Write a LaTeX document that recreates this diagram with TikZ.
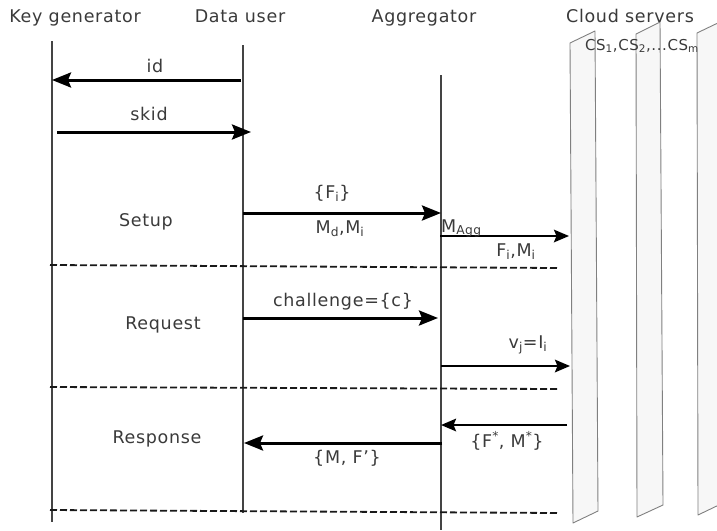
\documentclass[tikz,border=0pt]{standalone}
\usepackage{fontspec}
\setmainfont{DejaVu Sans}[LetterSpace=4]
\definecolor{srvfill}{HTML}{F7F7F7}
\definecolor{lifegray}{HTML}{444444}
\definecolor{txtgray}{HTML}{3A3A3A}
\usetikzlibrary{arrows.meta}

\begin{document}
\begin{tikzpicture}[x=1pt, y=-1pt,
    every node/.style={font=\fontsize{17.5}{20}\selectfont, text=txtgray, inner sep=0pt, anchor=base}]
        \tikzset{
          life/.style={draw=lifegray, line width=1.2pt},
          server/.style={draw=gray, fill=srvfill, line width=0.9pt, line join=round},
          msg/.style={-{Stealth[length=19pt, width=15pt, inset=3pt]}, line width=3pt, black},
          msgsmall/.style={-{Stealth[length=15pt, width=12.5pt, inset=2.5pt]}, line width=2.5pt, black},
          phaseline/.style={dash pattern=on 7pt off 3pt, line width=1.8pt, black!90},
          sub/.style={font=\fontsize{15}{18}\selectfont}
        }
        \useasboundingbox (0,0) rectangle (717,530);
        \clip (0,0) rectangle (717,530);

        \draw[server] (570,43) -- (595,31) -- (598,511) -- (573,523) -- cycle;
        \draw[server] (636,34) -- (660,22) -- (663,505) -- (637,517) -- cycle;
        \draw[server] (697,33) -- (722,21) -- (723,503) -- (698,515) -- cycle;

        \node (kg)    at (75,23)  {Key generator};
        \node (du)    at (240,23) {Data user};
        \node (agg)   at (424,23) {Aggregator};
        \node (cloud) at (630,23) {Cloud servers};
        \node[sub] (cs) at (642,50) {CS\textsubscript{1},CS\textsubscript{2},...CS\textsubscript{m}};

        \coordinate (kgT)  at (52,41);  \coordinate (kgB)  at (52,522);
        \coordinate (duT)  at (243,45); \coordinate (duB)  at (243,513);
        \coordinate (aggT) at (441,75); \coordinate (aggB) at (441,530);
        \draw[life] (kgT) -- (kgB);
        \draw[life] (duT) -- (duB);
        \draw[life] (aggT) -- (aggB);

        \node (setup)    at (146,226) {Setup};
        \node (request)  at (163,329) {Request};
        \node (response) at (157,443) {Response};

        \coordinate (d1a) at (50,265);  \coordinate (d1b) at (558,268);
        \coordinate (d2a) at (50,387);  \coordinate (d2b) at (558,389);
        \coordinate (d3a) at (50,510);  \coordinate (d3b) at (558,513);
        \draw[phaseline] (d1a) -- (d1b);
        \draw[phaseline] (d2a) -- (d2b);
        \draw[phaseline] (d3a) -- (d3b);

        \coordinate (idS)   at (241,80);  \coordinate (idE)   at (52,80);
        \coordinate (skS)   at (57,132);  \coordinate (skE)   at (251,132);
        \coordinate (fiS)   at (243,213); \coordinate (fiE)   at (441,213);
        \coordinate (mgS)   at (440,236); \coordinate (mgE)   at (569,236);
        \coordinate (chS)   at (243,318); \coordinate (chE)   at (438,318);
        \coordinate (vjS)   at (441,366); \coordinate (vjE)   at (570,366);
        \coordinate (fsS)   at (567,425); \coordinate (fsE)   at (441,425);
        \coordinate (mfS)   at (442,443); \coordinate (mfE)   at (244,443);

        \draw[msg] (idS) -- (idE);
        \node (lid) at (155,72) {id};
        \draw[msg] (skS) -- (skE);
        \node (lsk) at (149,120) {skid};

        \draw[msg] (fiS) -- (fiE);
        \node (lfi) at (332,198) {\{F\textsubscript{i}\}};
        \node (lmd) at (340,233) {M\textsubscript{d},M\textsubscript{i}};
        \draw[msgsmall] (mgS) -- (mgE);
        \node[anchor=base west] (lmagg) at (441,232) {M\textsubscript{Agg}};
        \node (lfm) at (516,256) {F\textsubscript{i},M\textsubscript{i}};

        \draw[msg] (chS) -- (chE);
        \node (lch) at (343,306) {challenge=\{c\}};
        \draw[msgsmall] (vjS) -- (vjE);
        \node (lvj) at (528,348) {v\textsubscript{j}=I\textsubscript{i}};

        \draw[msgsmall] (fsS) -- (fsE);
        \node (lfs) at (507,447) {\{F\textsuperscript{*}, M\textsuperscript{*}\}};
        \draw[msg] (mfS) -- (mfE);
        \node (lmf) at (347,463) {\{M, F'\}};
      \end{tikzpicture}
\end{document}
